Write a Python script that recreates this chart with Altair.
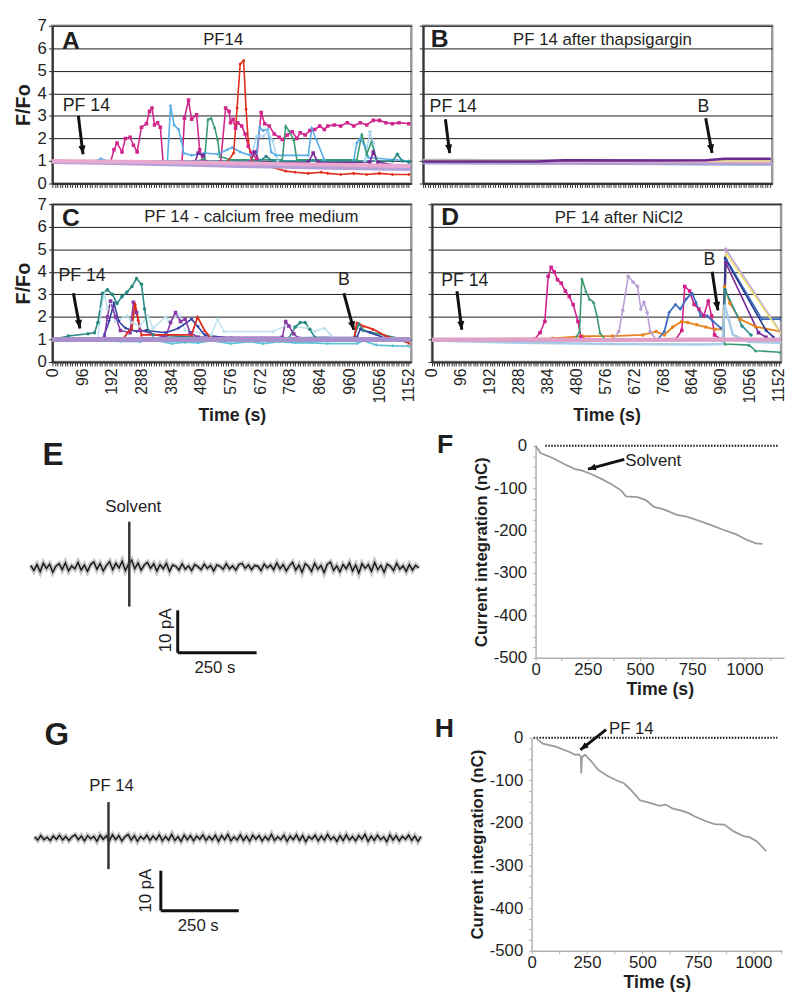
import altair as alt
import pandas as pd

FONT = "Liberation Sans"
INK = "#1f1f1f"

# ---------------- tick values ----------------
TIME_TICKS = list(range(0, 1153, 8))          # one tick per sample (8 s)
FFO_TICKS = [0, 1, 2, 3, 4, 5, 6, 7]
NC_TICKS = list(range(-500, 1, 25))
SEC_TICKS = list(range(0, 1126, 125))

# ---------------- panel A : PF14 ----------------
A_MAGENTA = [(0,0.95),(188,0.95),(199,1.5),(209,1.8),(225,1.4),(236,2.0),(251,2.05),(262,1.7),(274,1.4),(288,2.5),(304,2.65),(314,3.2),(322,3.35),(330,2.6),(340,2.7),(349,2.5),(358,0.95),(419,0.95),(427,2.9),(440,3.7),(450,2.85),(466,3.05),(476,1.5),(487,0.95),(544,0.95),(560,3.35),(571,3.2),(576,2.7),(584,2.85),(592,2.45),(599,2.7),(612,2.55),(623,2.2),(633,1.65),(644,1.35),(660,1.1),(675,3.15),(686,2.65),(701,2.55),(717,2.2),(733,2.05),(743,1.95),(759,2.15),(775,2.3),(790,2.0),(801,2.25),(817,2.15),(832,2.35),(848,2.4),(864,2.55),(879,2.4),(890,2.55),(911,2.6),(932,2.55),(953,2.7),(974,2.55),(995,2.7),(1016,2.6),(1037,2.8),(1057,2.8),(1078,2.7),(1099,2.65),(1120,2.7),(1152,2.65)]
A_BLUE = [(0,1.0),(136,1.0),(157,1.1),(178,1.0),(372,1.0),(382,3.45),(393,2.6),(408,2.4),(417,1.9),(424,1.35),(450,1.25),(492,1.35),(534,1.3),(565,1.5),(581,1.6),(607,1.4),(639,1.25),(660,1.35),(670,2.5),(681,2.35),(696,2.4),(707,1.4),(722,1.25),(827,1.25),(838,2.45),(853,1.95),(879,1.05),(974,1.05),(984,1.8),(995,2.0),(1010,1.65),(1021,1.15),(1152,1.0)]
A_SKY = [(639,1.0),(660,2.1),(681,2.1),(696,2.3),(712,1.9),(728,1.0),(1010,1.0),(1026,2.3),(1037,1.8),(1047,1.0)]
A_GREEN = [(471,1.0),(492,1.1),(503,2.85),(513,2.9),(524,2.5),(534,1.95),(541,1.2),(576,1.05),(743,1.05),(754,2.55),(764,2.35),(780,1.95),(790,1.05),(984,1.05),(1000,2.2),(1016,1.3),(1031,1.85),(1047,1.1)]
A_PURPLE = [(0,0.95),(461,0.95),(471,1.35),(487,1.25),(497,0.95),(639,0.95),(654,1.4),(670,0.95),(827,0.95),(843,1.35),(858,0.95),(1026,0.95),(1037,1.4),(1052,0.95),(1152,0.7)]
A_TEAL = [(0,1.0),(670,1.0),(691,1.2),(712,1.0),(1099,1.0),(1115,1.3),(1131,1.0),(1152,0.95)]
A_RED = [(0,0.95),(565,0.95),(586,1.35),(597,3.35),(607,5.3),(618,5.45),(626,3.3),(633,1.9),(644,0.95),(701,0.75),(754,0.55),(785,0.5),(827,0.45),(869,0.5),(890,0.45),(932,0.4),(974,0.45),(1016,0.4),(1057,0.45),(1099,0.4),(1152,0.4)]
A_PINK = [(0,1.0),(150,0.98),(300,0.96),(450,0.93),(600,0.9),(750,0.86),(900,0.83),(1050,0.8),(1152,0.78)]
A_LAV = [(0,0.95),(150,0.92),(300,0.88),(450,0.83),(600,0.78),(750,0.74),(900,0.7),(1050,0.66),(1152,0.64)]
A_PALE = [(0,0.97),(150,0.95),(300,0.92),(450,0.88),(600,0.85),(750,0.8),(900,0.76),(1050,0.72),(1152,0.7)]
A_YELLOW = [(0,1.0),(150,0.97),(300,0.93),(450,0.9),(600,0.86),(750,0.82),(900,0.78),(1050,0.75),(1152,0.74)]

# ---------------- panel B : after thapsigargin ----------------
B_PURPLE = [(0,0.98),(380,0.98),(470,1.03),(800,1.02),(940,1.03),(1000,1.1),(1152,1.1)]
B_YELLOW = [(0,1.02),(300,1.02),(600,1.01),(900,1.0),(1152,1.0)]
B_PALE = [(0,0.94),(300,0.93),(600,0.92),(900,0.88),(1152,0.86)]
B_LAV = [(0,0.97),(300,0.96),(600,0.95),(900,0.94),(1152,0.93)]
B_PINK = [(0,1.0),(300,0.98),(600,0.97),(900,0.96),(1152,0.95)]

# ---------------- panel C : calcium free medium ----------------
C_CYAN = [(0,0.95),(157,0.95),(220,0.92),(283,0.9),(325,0.98),(387,0.82),(429,0.88),(471,0.85),(513,0.95),(576,0.82),(639,0.9),(681,0.82),(733,0.9),(785,0.85),(838,0.85),(890,0.82),(984,0.82),(1005,0.95),(1047,0.75),(1099,0.72),(1152,0.7)]
C_ICE = [(147,1.0),(157,2.35),(168,3.05),(178,2.35),(188,2.6),(204,1.8),(241,2.05),(257,1.75),(283,1.6),(309,2.05),(325,1.5),(366,2.0),(377,1.8),(408,2.1),(429,1.4),(513,1.2),(534,1.9),(555,1.35),(712,1.35),(754,1.6),(827,1.5),(848,1.35),(879,1.5),(900,1.2)]
C_TEAL = [(0,1.0),(52,1.15),(115,1.25),(136,1.3),(147,1.75),(162,3.05),(178,3.2),(194,3.0),(209,2.6),(225,2.9),(241,3.1),(257,3.35),(272,3.7),(288,3.45),(298,2.35),(309,1.4),(325,1.2),(471,1.1),(764,1.05),(785,1.55),(801,1.75),(817,1.75),(832,1.45),(848,1.1),(974,1.05),(990,1.7),(1005,1.4),(1152,0.95)]
C_BLUE = [(168,1.2),(183,1.8),(199,2.6),(215,1.8),(236,1.5),(272,1.35),(304,1.4),(366,1.3),(408,1.5),(450,1.9),(471,1.55),(492,1.2),(576,1.05),(984,1.1),(995,1.45),(1026,1.3),(1078,1.05)]
C_PURPLE = [(168,1.1),(178,2.0),(188,2.7),(204,2.0),(220,1.4),(251,1.3),(262,2.65),(272,2.2),(283,1.4),(366,1.1),(382,1.75),(398,2.2),(414,1.8),(429,1.9),(445,1.3),(471,1.1),(743,1.1),(754,1.8),(764,1.6),(780,1.25),(796,1.05)]
C_RED = [(0,0.98),(230,1.05),(246,1.35),(257,1.5),(267,2.6),(277,1.9),(288,1.2),(450,1.2),(469,2.0),(492,1.4),(513,1.05),(974,0.95),(984,1.75),(1005,1.6),(1037,1.45),(1078,1.15),(1152,0.85)]
C_LAV = [(0,1.0),(300,1.0),(600,1.0),(900,1.0),(1152,1.0)]
C_PINK = [(0,0.98),(300,0.98),(600,0.99),(900,1.0),(1152,1.0)]

# ---------------- panel D : after NiCl2 ----------------
D_MAGENTA = [(0,1.0),(340,1.0),(359,1.3),(375,1.8),(386,3.8),(396,4.2),(406,4.0),(417,3.65),(429,3.5),(443,3.15),(456,2.9),(469,2.55),(485,1.8),(495,1.1),(520,1.0),(810,1.0),(830,1.4),(840,3.35),(856,3.15),(871,2.55),(887,2.35),(903,2.05),(918,2.7),(929,2.05),(939,1.2),(960,1.0)]
D_GREEN = [(0,0.95),(475,1.0),(490,1.35),(498,3.7),(511,3.15),(523,2.8),(537,2.65),(548,2.05),(558,1.3),(575,1.0),(965,0.95),(975,0.8),(1054,0.75),(1075,0.5),(1157,0.43)]
D_LILAC = [(0,1.0),(600,1.0),(621,1.35),(634,2.3),(652,3.8),(668,3.55),(683,3.35),(694,2.35),(704,2.65),(715,2.2),(725,1.35),(745,1.0),(968,1.0),(976,5.0),(1157,1.35)]
D_BLUE = [(0,1.0),(750,1.0),(772,1.35),(788,2.2),(809,2.55),(825,2.35),(845,2.8),(864,3.05),(877,2.65),(893,2.05),(914,2.05),(934,1.8),(960,1.5),(968,1.5),(978,4.55),(1096,1.9),(1157,1.9)]
D_ORANGE = [(0,1.0),(400,1.05),(500,1.15),(600,1.15),(700,1.2),(745,1.35),(772,1.2),(800,1.55),(830,1.8),(850,1.75),(880,1.65),(910,1.55),(940,1.45),(966,1.45),(972,3.35),(990,2.6),(1023,1.9),(1075,1.57),(1157,1.36)]
D_YELLOW = [(0,1.0),(968,1.0),(978,4.8),(1157,1.3)]
D_PURPLE = [(0,1.0),(968,1.0),(976,4.4),(1085,1.3),(1110,1.1)]
D_NAVY = [(0,1.0),(968,1.0),(974,4.6),(1110,1.4),(1135,1.1)]
D_TEAL = [(0,1.0),(968,1.0),(974,3.2),(1030,1.6),(1060,1.2)]
D_SKY = [(0,0.95),(300,0.85),(600,0.8),(900,0.78),(966,0.8),(972,2.55),(1000,1.2),(1050,0.9),(1157,0.85)]
D_PINK = [(0,1.0),(300,1.0),(600,0.98),(900,1.0),(1157,1.0)]
D_LAV = [(0,0.98),(300,0.95),(600,0.95),(900,0.98),(1157,0.98)]

# ---------------- E / G : current traces (pA, one sample per 10 s) ----------------
E_TIME = list(range(0, 1231, 10))
E_NOISE = [0.4,-0.8,0.6,-1.1,0.9,-0.3,0.7,-1.2,0.2,0.8,-0.6,1.0,-0.9,0.3,-0.4,1.1,-0.7,0.5,-1.0,0.6,
           1.2,-0.5,0.8,-0.9,0.4,1.3,-0.6,0.9,-0.2,1.4,-0.8,0.7,1.6,-0.4,1.0,-0.7,0.5,1.1,-0.3,0.8,
           -0.9,0.6,-0.4,0.9,-1.0,0.5,0.2,-0.7,0.8,-0.5,0.3,-0.8,0.6,0.1,-0.6,0.7,-0.3,0.4,-0.9,0.5,
           0.2,-0.5,0.8,-0.4,0.3,-0.7,0.6,0.9,-0.3,0.5,-0.6,0.4,0.2,-0.8,0.7,-0.2,0.5,-0.6,1.0,-0.4,
           0.6,-0.9,0.3,1.1,-0.7,0.5,-1.2,0.8,0.2,-1.0,0.9,-0.5,0.4,-1.3,0.7,1.2,-0.8,0.3,-1.1,0.6,
           -0.4,1.0,-0.9,0.5,-1.4,0.8,-0.3,0.6,-1.0,1.1,-0.6,0.4,-1.2,0.7,0.2,-0.8,0.9,-0.5,0.3,-1.0,
           0.6,-0.7,0.4,-0.2]
G_TIME = list(range(0, 1241, 10))
G_NOISE = [0.3,-0.5,0.6,-0.4,0.2,-0.6,0.5,-0.3,0.7,-0.5,0.4,-0.6,0.3,0.8,-0.4,0.5,-0.7,0.6,-0.2,0.4,
           -0.8,0.7,-0.3,0.5,-0.6,0.8,-0.4,0.6,-0.7,0.3,0.9,-0.5,0.6,-0.8,0.4,-0.3,0.7,-0.6,0.5,-0.4,
           0.8,-0.7,0.4,-0.5,0.9,-0.6,0.3,-0.8,0.7,-0.4,0.6,-0.7,0.5,-0.3,0.8,-0.6,0.4,-0.5,0.7,-0.8,
           0.6,-0.4,0.9,-0.7,0.3,-0.5,0.8,-0.6,0.5,-0.8,0.7,-0.3,0.6,-0.7,0.4,-0.5,0.9,-0.6,0.3,-0.4,
           0.7,-0.8,0.5,-0.4,0.8,-0.6,0.6,-0.9,0.4,-0.3,0.7,-0.7,0.5,-0.5,0.9,-0.4,0.3,-0.8,0.6,-0.6,
           0.8,-0.5,0.4,-0.7,0.6,-0.3,0.9,-0.8,0.5,-0.6,0.7,-0.4,0.3,-0.9,0.8,-0.5,0.6,-0.7,0.4,-0.3,
           0.7,-0.6,0.5,-0.8,0.4]

# ---------------- F / H : current integration (nC) ----------------
F_TRACE = [(0,0),(24,-17),(79,-28),(142,-44),(189,-55),(220,-58),(268,-67),(315,-78),(362,-90),(409,-105),(433,-119),(488,-121),(528,-128),(567,-144),(614,-150),(677,-163),(724,-167),(772,-175),(835,-186),(898,-198),(961,-209),(1008,-221),(1055,-230),(1087,-231)]
H_TRACE = [(20,0),(29,-5),(51,-14),(109,-21),(168,-33),(197,-40),(212,-39),(222,-44),(224,-84),(227,-46),(241,-40),(270,-56),(299,-75),(343,-90),(387,-101),(416,-107),(445,-121),(489,-147),(533,-153),(577,-160),(606,-157),(635,-166),(679,-172),(708,-177),(737,-185),(781,-195),(825,-203),(869,-204),(912,-220),(956,-231),(985,-234),(1015,-243),(1058,-266)]

# ---------------- styles: colour, stroke width, marker ----------------
STYLE = {
    "A_MAGENTA": ("#d0268c", 1.6, "square"), "A_BLUE": ("#58aee6", 1.6, "diamond"),
    "A_SKY": ("#a6d2f0", 1.4, "cross"), "A_GREEN": ("#3a9a74", 1.6, "triangle-up"),
    "A_PURPLE": ("#7a2c98", 1.6, "square"), "A_TEAL": ("#2a8888", 1.6, "circle"),
    "A_RED": ("#e0301c", 1.6, "diamond"),
    "A_PINK": ("#e8a8d0", 4, ""), "A_LAV": ("#b4a0d8", 4, ""), "A_PALE": ("#9cc8ec", 3, ""),
    "A_YELLOW": ("#eee08a", 2, ""),
    "B_PURPLE": ("#6a2a90", 2.5, ""), "B_YELLOW": ("#e8e080", 1.5, ""), "B_PALE": ("#8ec0ec", 3.5, ""),
    "B_LAV": ("#b0a0d0", 6, ""), "B_PINK": ("#e8a8d0", 2, ""),
    "C_CYAN": ("#62c2da", 1.8, "diamond"), "C_ICE": ("#bfe2ee", 1.5, "cross"),
    "C_TEAL": ("#2a8a80", 1.6, "circle"), "C_BLUE": ("#3040a0", 1.6, "triangle-down"),
    "C_PURPLE": ("#8a3aa8", 1.6, "square"), "C_RED": ("#e02a1c", 1.8, "triangle-up"),
    "C_LAV": ("#a890cc", 5, ""), "C_PINK": ("#e8a0c8", 2, ""),
    "D_MAGENTA": ("#d0208c", 1.6, "square"), "D_GREEN": ("#3a9a70", 1.6, "triangle-up"),
    "D_LILAC": ("#b8a0d4", 1.6, "circle"), "D_BLUE": ("#3a6ec0", 1.8, "diamond"),
    "D_ORANGE": ("#e8821e", 1.8, "circle"), "D_YELLOW": ("#f0e070", 1.6, "triangle-up"),
    "D_PURPLE": ("#7a2a9a", 1.6, "square"), "D_NAVY": ("#2a3a90", 1.6, "diamond"),
    "D_TEAL": ("#2a9090", 1.6, "circle"), "D_SKY": ("#a8cce8", 2.5, ""),
    "D_PINK": ("#e0a0c8", 4, ""), "D_LAV": ("#b8a8d8", 3, ""),
}

PANELS = {
    "A": dict(thin=[("A_MAGENTA", A_MAGENTA), ("A_BLUE", A_BLUE), ("A_SKY", A_SKY), ("A_GREEN", A_GREEN),
                    ("A_PURPLE", A_PURPLE), ("A_TEAL", A_TEAL), ("A_RED", A_RED)],
              thick=[("A_PALE", A_PALE), ("A_YELLOW", A_YELLOW), ("A_LAV", A_LAV), ("A_PINK", A_PINK)],
              letter=(31, 5.99, "A"), title=(552, 6.15, "PF14"),
              notes=[(110, 3.2, "PF 14")], arrows=[(84, 3.0, 99, 1.3, 353)]),
    "B": dict(thin=[], thick=[("B_PALE", B_PALE), ("B_LAV", B_LAV), ("B_PINK", B_PINK),
                              ("B_YELLOW", B_YELLOW), ("B_PURPLE", B_PURPLE)],
              letter=(25, 6.05, "B"), title=(596, 6.14, "PF 14 after thapsigargin"),
              notes=[(100, 3.18, "PF 14"), (931, 3.18, "B")],
              arrows=[(74, 2.85, 88, 1.35, 353), (939, 2.9, 960, 1.35, 350)]),
    "C": dict(thin=[("C_CYAN", C_CYAN), ("C_ICE", C_ICE), ("C_TEAL", C_TEAL), ("C_BLUE", C_BLUE),
                    ("C_PURPLE", C_PURPLE), ("C_RED", C_RED)],
              thick=[("C_PINK", C_PINK), ("C_LAV", C_LAV)],
              letter=(31, 6.04, "C"), title=(643, 6.21, "PF 14 - calcium free medium"),
              notes=[(96, 3.59, "PF 14"), (942, 3.4, "B")],
              arrows=[(68, 3.05, 89, 1.49, 350), (942, 3.05, 974, 1.42, 345)]),
    "D": dict(thin=[("D_ORANGE", D_ORANGE), ("D_MAGENTA", D_MAGENTA), ("D_GREEN", D_GREEN), ("D_LILAC", D_LILAC),
                    ("D_BLUE", D_BLUE), ("D_YELLOW", D_YELLOW), ("D_PURPLE", D_PURPLE), ("D_NAVY", D_NAVY),
                    ("D_TEAL", D_TEAL)],
              thick=[("D_SKY", D_SKY), ("D_LAV", D_LAV), ("D_PINK", D_PINK)],
              letter=(31, 6.07, "D"), title=(621, 6.15, "PF 14 after NiCl2"),
              notes=[(109, 3.35, "PF 14"), (922, 4.3, "B")],
              arrows=[(83, 3.14, 99, 1.43, 353), (931, 4.0, 950, 2.29, 351)]),
}

HEAD = "M0,0L-0.42,-1L0.42,-1Z"   # arrow head, tip at the anchor point


def frame(pairs):
    rows = []
    for name, pts in pairs:
        col, w, sh = STYLE[name]
        for i, (t, v) in enumerate(pts):
            rows.append({"s": name, "i": i, "t": t, "v": v, "c": col, "w": w, "sh": sh})
    return pd.DataFrame(rows, columns=["s", "i", "t", "v", "c", "w", "sh"])


def arrow_layers(arrows, X, Y, width=3, size=300):
    shaft = pd.DataFrame([{"t": a[0], "v": a[1], "t2": a[2], "v2": a[3]} for a in arrows])
    head = pd.DataFrame([{"t": a[2], "v": a[3], "a": a[4]} for a in arrows])
    r = alt.Chart(shaft).mark_rule(color="#111", strokeWidth=width).encode(X, Y, x2="t2:Q", y2="v2:Q")
    h = alt.Chart(head).mark_point(shape=HEAD, filled=True, color="#111", size=size, opacity=1).encode(
        X, Y, angle=alt.Angle("a:Q", scale=None))
    return [r, h]


def ffo_panel(key, y_labels, x_labels, width, height):
    p = PANELS[key]
    xk = dict(values=TIME_TICKS, grid=False, tickSize=4, tickColor="#333", domainColor="#333", domainWidth=2)
    if x_labels:
        xk.update(labelExpr="datum.value % 96 === 0 ? '' + datum.value : ''", labelAngle=270,
                  labelAlign="right", labelBaseline="middle", labelFontSize=16, labelColor=INK,
                  labelPadding=2, labelOverlap=False, labelFlush=False, title="Time (s)",
                  titleFontSize=18, titleFontWeight="bold", titleColor=INK, titlePadding=4)
    else:
        xk.update(labels=False, title=None)
    yk = dict(values=FFO_TICKS, grid=True, gridColor="#1a1a1a", gridWidth=1, tickSize=4, tickColor="#333",
              domainColor="#333", domainWidth=2)
    if y_labels:
        yk.update(labelFontSize=17, labelColor=INK, labelPadding=2, title="F/Fo", titleFontSize=20,
                  titleFontWeight="bold", titleColor=INK, titlePadding=4)
    else:
        yk.update(labels=False, title=None)
    X = alt.X("t:Q", scale=alt.Scale(domain=[0, 1160], nice=False, zero=False), axis=alt.Axis(**xk))
    Y = alt.Y("v:Q", scale=alt.Scale(domain=[0, 7], nice=False, zero=False), axis=alt.Axis(**yk))
    col = alt.Color("c:N", scale=None)
    sw = alt.StrokeWidth("w:Q", scale=None)
    layers = []
    if p["thin"]:
        thin = frame(p["thin"])
        layers.append(alt.Chart(thin).mark_line(clip=True).encode(X, Y, color=col, strokeWidth=sw,
                                                                   detail="s:N", order="i:Q"))
        layers.append(alt.Chart(thin).mark_point(filled=True, size=13, opacity=1, clip=True).encode(
            X, Y, color=col, shape=alt.Shape("sh:N", scale=None)))
    thick = frame(p["thick"])
    layers.append(alt.Chart(thick).mark_line(clip=True, strokeCap="round").encode(
        X, Y, color=col, strokeWidth=sw, detail="s:N", order="i:Q"))
    layers += arrow_layers(p["arrows"], X, Y)
    notes = pd.DataFrame([{"t": n[0], "v": n[1], "txt": n[2]} for n in p["notes"]])
    layers.append(alt.Chart(notes).mark_text(font=FONT, fontSize=18, color=INK, align="center",
                                             baseline="alphabetic").encode(X, Y, text="txt:N"))
    tt = pd.DataFrame([{"t": p["title"][0], "v": p["title"][1], "txt": p["title"][2]}])
    layers.append(alt.Chart(tt).mark_text(font=FONT, fontSize=17, color=INK, align="center",
                                          baseline="alphabetic").encode(X, Y, text="txt:N"))
    lt = pd.DataFrame([{"t": p["letter"][0], "v": p["letter"][1], "txt": p["letter"][2]}])
    layers.append(alt.Chart(lt).mark_text(font=FONT, fontSize=25, fontWeight="bold", color=INK, align="left",
                                          baseline="alphabetic").encode(X, Y, text="txt:N"))
    return alt.layer(*layers).properties(width=width, height=height,
                                         view=alt.ViewBackground(stroke="#9a9a9a", strokeWidth=2.5))


def current_panel(times, noise, marker, bar, texts, rot_text, letter, xdom, ydom, width, height):
    # the view's left edge lines up with panel A's plot area; the trace starts a little to its left
    X = alt.X("t:Q", scale=alt.Scale(domain=xdom, nice=False, zero=False), axis=None)
    Y = alt.Y("v:Q", scale=alt.Scale(domain=ydom, nice=False, zero=False), axis=None)
    df = pd.DataFrame({"t": times, "v": noise})
    fuzz = alt.Chart(df).mark_line(color="#000", opacity=0.22, strokeWidth=5).encode(X, Y)
    line = alt.Chart(df).mark_line(color="#1a1a1a", strokeWidth=1.5).encode(X, Y)
    mk = alt.Chart(pd.DataFrame([marker])).mark_rule(color="#333", strokeWidth=2.5).encode(X, Y, y2="v2:Q")
    sb = alt.Chart(pd.DataFrame(bar)).mark_rule(color="#111", strokeWidth=3).encode(X, Y, x2="t2:Q", y2="v2:Q")
    tx = alt.Chart(pd.DataFrame(texts)).mark_text(font=FONT, fontSize=17, color=INK, align="center",
                                                  baseline="alphabetic").encode(X, Y, text="txt:N")
    rt = alt.Chart(pd.DataFrame([rot_text])).mark_text(font=FONT, fontSize=17, color=INK, align="center",
                                                      baseline="middle", angle=270).encode(X, Y, text="txt:N")
    lt = alt.Chart(pd.DataFrame([letter])).mark_text(font=FONT, fontSize=32, fontWeight="bold", color=INK,
                                                     align="left", baseline="alphabetic").encode(X, Y, text="txt:N")
    return alt.layer(fuzz, line, mk, sb, tx, rt, lt).properties(
        width=width, height=height, view=alt.ViewBackground(stroke="transparent"))


def charge_panel(trace, xmax, zero_line, arrow, note, letter, width, height):
    axis_style = dict(domainColor="#b0b0b0", domainWidth=1.5, tickColor="#b0b0b0", tickSize=3,
                      labelFontSize=17, labelColor=INK, grid=False, titleColor=INK, titleFontWeight="bold")
    X = alt.X("t:Q", scale=alt.Scale(domain=[0, xmax], nice=False, zero=False),
              axis=alt.Axis(values=SEC_TICKS, labelExpr="datum.value % 250 === 0 ? '' + datum.value : ''",
                            labelPadding=1, labelFlush=False, labelOverlap=False, title="Time (s)",
                            titleFontSize=18, titlePadding=3, **axis_style))
    Y = alt.Y("v:Q", scale=alt.Scale(domain=[-500, 0], nice=False, zero=False),
              axis=alt.Axis(values=NC_TICKS,
                            labelExpr="datum.value % 100 === 0 ? (datum.value < 0 ? '-' : '') + abs(datum.value) : ''",
                            labelPadding=6, labelOverlap=False, labelFlush=False,
                            title="Current integration (nC)", titleFontSize=17, titlePadding=3, **axis_style))
    df = pd.DataFrame([{"i": i, "t": t, "v": v} for i, (t, v) in enumerate(trace)])
    zl = alt.Chart(pd.DataFrame([{"t": zero_line[0], "t2": zero_line[1], "v": 0}])).mark_rule(
        color="#111", strokeWidth=2, strokeDash=[1.5, 1.5]).encode(X, Y, x2="t2:Q")
    ln = alt.Chart(df).mark_line(color="#9a9a9a", strokeWidth=1.8).encode(X, Y, order="i:Q")
    tx = alt.Chart(pd.DataFrame([note])).mark_text(font=FONT, fontSize=17, color=INK, align="left",
                                                   baseline="alphabetic").encode(X, Y, text="txt:N")
    lt = alt.Chart(pd.DataFrame([letter])).mark_text(font=FONT, fontSize=27, fontWeight="bold", color=INK,
                                                     align="left", baseline="alphabetic").encode(X, Y, text="txt:N")
    return alt.layer(zl, ln, *arrow_layers([arrow], X, Y, width=3, size=260), tx, lt).properties(
        width=width, height=height, view=alt.ViewBackground(stroke="transparent"))


A = ffo_panel("A", True, False, 364, 160)
B = ffo_panel("B", False, False, 354, 160)
C = ffo_panel("C", True, True, 364, 160)
D = ffo_panel("D", False, True, 354, 160)

E = current_panel(E_TIME, E_NOISE, {"t": 312.5, "v": 10.7, "v2": -9.3},
                  [{"t": 466, "v": -10.2, "t2": 466, "v2": -20.2}, {"t": 466, "v": -20.2, "t2": 716, "v2": -20.2}],
                  [{"t": 325, "v": 13, "txt": "Solvent"}, {"t": 584, "v": -24.9, "txt": "250 s"}],
                  {"t": 428, "v": -14.9, "txt": "10 pA"}, {"t": 37.5, "v": 24, "txt": "E"},
                  [68.75, 1225], [-27.2, 28.6], 370, 240)
G = current_panel(G_TIME, G_NOISE, {"t": 237, "v": 8.8, "v2": -7.6},
                  [{"t": 405, "v": -8.0, "t2": 405, "v2": -17.8}, {"t": 405, "v": -17.8, "t2": 655, "v2": -17.8}],
                  [{"t": 247, "v": 11.5, "txt": "PF 14"}, {"t": 525, "v": -22.7, "txt": "250 s"}],
                  {"t": 358, "v": -12.9, "txt": "10 pA"}, {"t": 32, "v": 22.9, "txt": "G"},
                  [57, 1234], [-31.0, 24.6], 372, 230)

F = charge_panel(F_TRACE, 1190, (47, 1160), (425, -32, 251, -55, 75),
                 {"t": 430, "v": -48, "txt": "Solvent"}, {"t": -472, "v": -16, "txt": "F"}, 252, 215)
H = charge_panel(H_TRACE, 1130, (9, 1109), (336, 19, 220, -28.5, 52),
                 {"t": 349, "v": 9.3, "txt": "PF 14"}, {"t": -437, "v": 2, "txt": "H"}, 254, 216)

row1 = alt.hconcat(A, B, spacing=4)
row2 = alt.hconcat(C, D, spacing=4)
row3 = alt.hconcat(E, F, spacing=6)
row4 = alt.hconcat(G, H, spacing=2)

chart = alt.vconcat(alt.vconcat(alt.vconcat(row1, row2, spacing=0), row3, spacing=4), row4, spacing=15)
chart = chart.properties(padding={"left": 4, "top": 0, "right": 0, "bottom": 0}).configure(
    font=FONT).configure_view(stroke="transparent")

chart.save("out.html", embed_options={"renderer": "svg", "actions": False})
